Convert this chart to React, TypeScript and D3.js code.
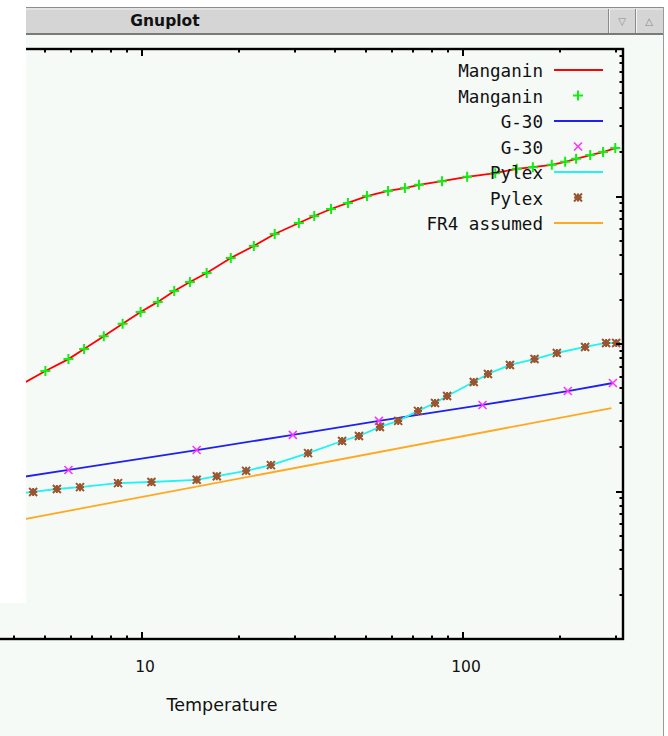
import React, { useRef, useEffect } from 'react';
import * as d3 from 'd3';

// temperature (K), conductivity
const manganin: [number, number][] = [
  [4, 0.5], [5.0, 0.656], [5.9, 0.79], [6.6, 0.925], [7.6, 1.13], [8.7, 1.37],
  [9.9, 1.65], [11.2, 1.93], [12.6, 2.29], [14.1, 2.63], [15.9, 3.03], [18.9, 3.83],
  [22.3, 4.62], [25.9, 5.57], [30.8, 6.61], [34.4, 7.38], [38.8, 8.23], [43.8, 9.04],
  [50.2, 10.07], [58.4, 10.9], [65.9, 11.4], [72.9, 12.0], [86, 12.7], [103, 13.6],
  [126, 14.4], [147, 15.4], [165, 15.8], [189, 16.4], [208, 17.2], [225, 18.0],
  [249, 19.1], [273, 20.0], [298, 21.3],
];
const g30: [number, number][] = [
  [4, 0.123], [5.9, 0.14], [14.8, 0.191], [29.5, 0.242], [54.7, 0.301],
  [115, 0.386], [212, 0.48], [293, 0.544],
];
const pylex: [number, number][] = [
  [4, 0.096], [4.58, 0.0993], [5.43, 0.104], [6.41, 0.107], [8.42, 0.114],
  [10.7, 0.116], [14.8, 0.12], [17.1, 0.127], [21.1, 0.138], [25.2, 0.151],
  [32.9, 0.182], [42.0, 0.22], [47.4, 0.238], [55.1, 0.274], [62.8, 0.301],
  [72.4, 0.352], [81.8, 0.398], [89.2, 0.444], [108, 0.552], [119.6, 0.626],
  [140, 0.721], [167, 0.791], [196, 0.869], [240, 0.955], [279, 1.016], [300, 1.016],
];
const fr4: [number, number][] = [[4, 0.063], [290, 0.368]];

const legendLabels = ['Manganin', 'Manganin', 'G-30', 'G-30', 'Pylex', 'Pylex', 'FR4 assumed'];
const xTickLabels = [10, 100];
const xLabel = 'Temperature';
const windowTitle = 'Gnuplot';

const BG = '#f6faf7';

function App() {
  const ref = useRef<SVGSVGElement>(null);

  useEffect(() => {
    const svg = d3.select(ref.current);
    svg.selectAll('*').remove();

    const W = 668, H = 736;
    const left = -179, right = 623, top = 49, bottom = 639;

    const x = d3.scaleLog().domain([1, 315]).range([left, right]);
    const y = d3.scaleLog().domain([0.01, 100]).range([bottom, top]);

    svg.append('rect').attr('width', W).attr('height', H).attr('fill', BG);

    const line = d3.line<[number, number]>().x((d) => x(d[0])).y((d) => y(d[1]));

    const plot = svg.append('g');

    const drawPlus = (g: any, cx: number, cy: number, color: string) => {
      g.append('path').attr('d', `M${cx - 5},${cy}H${cx + 5}M${cx},${cy - 5}V${cy + 5}`)
        .attr('stroke', color).attr('stroke-width', 2).attr('fill', 'none');
    };
    const drawCross = (g: any, cx: number, cy: number, color: string) => {
      g.append('path').attr('d', `M${cx - 4},${cy - 4}L${cx + 4},${cy + 4}M${cx - 4},${cy + 4}L${cx + 4},${cy - 4}`)
        .attr('stroke', color).attr('stroke-width', 1.6).attr('fill', 'none');
    };
    const drawStar = (g: any, cx: number, cy: number, color: string) => {
      g.append('path').attr('d', `M${cx - 4},${cy}H${cx + 4}M${cx},${cy - 4}V${cy + 4}M${cx - 4},${cy - 4}L${cx + 4},${cy + 4}M${cx - 4},${cy + 4}L${cx + 4},${cy - 4}`)
        .attr('stroke', color).attr('stroke-width', 2).attr('fill', 'none');
      g.append('circle').attr('cx', cx).attr('cy', cy).attr('r', 2.6).attr('fill', color);
    };

    const series = [
      { data: manganin, kind: 'line', color: '#ff0000' },
      { data: manganin, kind: 'plus', color: '#11ee11' },
      { data: g30, kind: 'line', color: '#2020f0' },
      { data: g30, kind: 'cross', color: '#ff33ff' },
      { data: pylex, kind: 'line', color: '#22f2f2' },
      { data: pylex, kind: 'star', color: '#9a5530' },
      { data: fr4, kind: 'line', color: '#ffa820' },
    ];
    const markers: any = { plus: drawPlus, cross: drawCross, star: drawStar };

    // draw lines first, then points
    series.filter((s) => s.kind === 'line').forEach((s) => {
      plot.append('path').attr('d', line(s.data)).attr('fill', 'none')
        .attr('stroke', s.color).attr('stroke-width', 1.8);
    });
    series.filter((s) => s.kind !== 'line').forEach((s) => {
      s.data.forEach((d) => markers[s.kind](plot, x(d[0]), y(d[1]), s.color));
    });

    // legend
    const lg = svg.append('g');
    series.forEach((s, i) => {
      const ly = 70 + i * 25.5;
      lg.append('text').attr('x', 543).attr('y', ly + 7).attr('text-anchor', 'end')
        .attr('font-family', 'DejaVu Sans Mono').attr('font-size', 17.6).attr('fill', '#111')
        .text(legendLabels[i]);
      if (s.kind === 'line') {
        lg.append('line').attr('x1', 554).attr('x2', 603).attr('y1', ly).attr('y2', ly)
          .attr('stroke', s.color).attr('stroke-width', 1.8);
      } else {
        markers[s.kind](lg, 578, ly, s.color);
      }
    });

    // ticks (inward on all sides)
    const xTicks: number[] = [];
    [1, 10, 100].forEach((dec) => d3.range(1, 10).forEach((m) => { if (m * dec <= 315) xTicks.push(m * dec); }));
    const yTicks: number[] = [];
    [0.01, 0.1, 1, 10].forEach((dec) => d3.range(1, 10).forEach((m) => yTicks.push(m * dec)));
    yTicks.push(100);
    const isMajor = (v: number) => Math.abs(Math.log10(v) - Math.round(Math.log10(v))) < 1e-9;

    const ax = svg.append('g').attr('stroke', '#000').attr('stroke-width', 2);
    xTicks.forEach((v) => {
      const len = isMajor(v) ? 7 : 3.5;
      const px = Math.round(x(v));
      ax.append('line').attr('x1', px).attr('x2', px).attr('y1', bottom).attr('y2', bottom - len);
      ax.append('line').attr('x1', px).attr('x2', px).attr('y1', top).attr('y2', top + len);
    });
    yTicks.forEach((v) => {
      const len = isMajor(v) ? 7 : 3.5;
      const py = Math.round(y(v));
      ax.append('line').attr('x1', right).attr('x2', right - len).attr('y1', py).attr('y2', py);
      ax.append('line').attr('x1', left).attr('x2', left + len).attr('y1', py).attr('y2', py);
    });
    svg.append('rect').attr('x', left).attr('y', top).attr('width', right - left).attr('height', bottom - top)
      .attr('fill', 'none').attr('stroke', '#000').attr('stroke-width', 2.4);

    xTickLabels.forEach((v) => {
      svg.append('text').attr('x', x(v) + 3).attr('y', 672).attr('text-anchor', 'middle')
        .attr('font-family', 'DejaVu Sans').attr('font-size', 15.5).attr('fill', '#111').text(String(v));
    });
    svg.append('text').attr('x', 222).attr('y', 711).attr('text-anchor', 'middle')
      .attr('font-family', 'DejaVu Sans').attr('font-size', 17.5).attr('fill', '#111').text(xLabel);

    // neighbouring window covering the left edge
    svg.append('rect').attr('x', 0).attr('y', 0).attr('width', 26).attr('height', 603).attr('fill', '#ffffff');
    svg.append('rect').attr('x', 0).attr('y', 0).attr('width', W).attr('height', 7).attr('fill', '#ffffff');
    svg.append('rect').attr('x', 664).attr('y', 0).attr('width', 4).attr('height', H).attr('fill', '#ffffff');

    // title bar
    const tb = svg.append('g');
    tb.append('rect').attr('x', 26).attr('y', 7).attr('width', 638).attr('height', 28).attr('fill', '#d5d5d5');
    tb.append('line').attr('x1', 26).attr('x2', 664).attr('y1', 7.5).attr('y2', 7.5).attr('stroke', '#8c8c8c');
    tb.append('line').attr('x1', 26).attr('x2', 664).attr('y1', 9).attr('y2', 9).attr('stroke', '#f0f0f0');
    tb.append('rect').attr('x', 26).attr('y', 33).attr('width', 638).attr('height', 2).attr('fill', '#7a7a7a');
    tb.append('text').attr('x', 165).attr('y', 26).attr('text-anchor', 'middle')
      .attr('font-family', 'DejaVu Sans').attr('font-weight', 'bold').attr('font-size', 15.5)
      .attr('fill', '#111').text(windowTitle);
    [[609, '▽'], [636, '△']].forEach(([bx, glyph]: any) => {
      tb.append('line').attr('x1', bx - 0.5).attr('x2', bx - 0.5).attr('y1', 9).attr('y2', 33).attr('stroke', '#8a8a8a');
      tb.append('line').attr('x1', bx + 0.5).attr('x2', bx + 0.5).attr('y1', 9).attr('y2', 33).attr('stroke', '#f4f4f4');
      tb.append('text').attr('x', bx + 13).attr('y', 25).attr('text-anchor', 'middle')
        .attr('font-family', 'DejaVu Sans').attr('font-size', 10).attr('fill', '#8a8a8a').text(glyph);
    });
    svg.append('line').attr('x1', 663.5).attr('x2', 663.5).attr('y1', 7).attr('y2', H)
      .attr('stroke', '#9a9a9a').attr('stroke-width', 1);
  }, []);

  return (
    <svg ref={ref} width={668} height={736}
      style={{ position: 'absolute', left: 0, top: 0, display: 'block' }}></svg>
  );
}

export default App;
